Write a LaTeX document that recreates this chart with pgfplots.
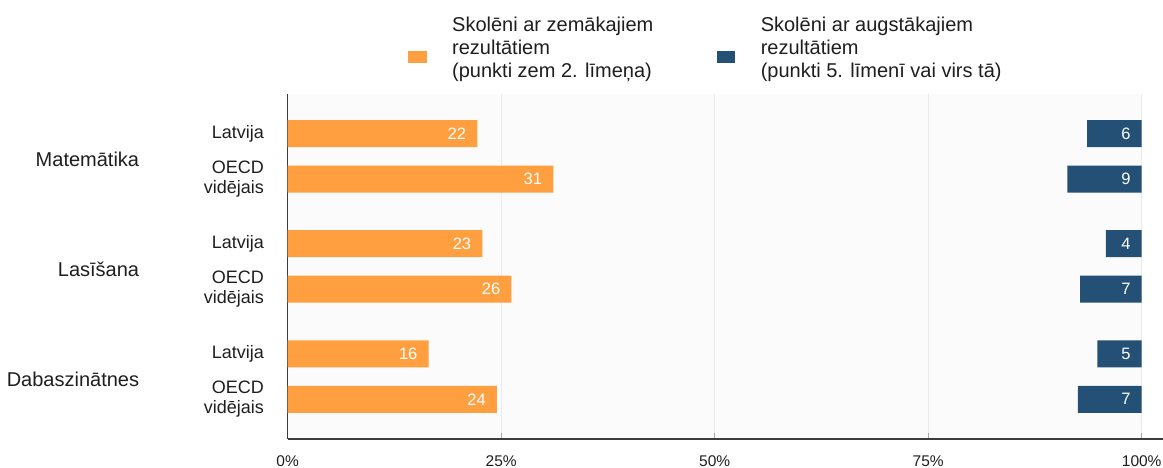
\documentclass[border=0pt]{standalone}
\usepackage{fontspec}
\setmainfont{Liberation Sans}
\usepackage{pgfplots}
\pgfplotsset{compat=1.18}

\definecolor{lowor}{RGB}{255,159,64}
\definecolor{topbl}{RGB}{37,80,117}
\definecolor{gridc}{RGB}{234,234,234}
\definecolor{axc}{RGB}{60,60,60}
\definecolor{txt}{RGB}{30,30,30}

\pgfplotsset{
  rowaxis/.style={
    at={(287.7pt,29pt)}, anchor=south west,
    scale only axis, width=854pt, height=345pt,
    xmin=0, xmax=100, ymin=-0.873, ymax=6.71,
  },
}

\begin{document}
\begin{tikzpicture}
\path[use as bounding box] (0,0) rectangle (1163pt,468pt);

% left: share of low achievers, bars from 0
\begin{axis}[rowaxis,
  axis background/.style={fill=white!98.5!black},
  axis x line*=bottom, axis y line*=left,
  axis line style={-, draw=axc, line width=1.3pt},
  x axis line style={shorten >=-21pt},
  xmajorgrids, grid style={gridc, line width=1.2pt},
  xtick={0,25,50,75,100},
  xticklabels={0\%,25\%,50\%,75\%,100\%},
  xtick style={draw=gray!70, line width=0.8pt},
  major tick length=6pt,
  ytick style={draw=none},
  xticklabel style={font=\fontsize{15.5}{17}\selectfont, text=txt, anchor=center, yshift=-22pt},
  ytick={0,1,2.42,3.42,4.84,5.84},
  yticklabels={{OECD\\vidējais},Latvija,{OECD\\vidējais},Latvija,{OECD\\vidējais},Latvija},
  yticklabel style={font=\fontsize{18}{19.5}\selectfont, text=txt, align=right, anchor=east, inner sep=0pt, xshift=-23.7pt},
  extra y ticks={0.44,2.86,5.28},
  extra y tick labels={Dabaszinātnes,Lasīšana,Matemātika},
  extra y tick style={yticklabel style={font=\fontsize{20}{22}\selectfont, xshift=-124.7pt}},
  legend columns=2,
  legend image code/.code={\fill[#1] (0pt,-15.4pt) rectangle (18.4pt,-2.7pt);},
  legend style={draw=none, fill=none, inner sep=0pt, outer sep=0pt,
    at={(axis description cs:0.1412,1.229)}, anchor=north west,
    font=\fontsize{20}{23}\selectfont, text=txt,
    cells={align=left, inner sep=0pt},
    /tikz/every odd column/.append style={column sep=23.5pt},
    /tikz/every even column/.append style={column sep=61.5pt}},
]
\addplot[xbar, bar width=27pt, bar shift=0pt, fill=lowor, draw=none,
  point meta=explicit symbolic, nodes near coords,
  nodes near coords style={anchor=east, xshift=-7.7pt, text=white, font=\fontsize{16.5}{18}\selectfont}]
  coordinates {(24.5,0)[24] (16.5,1)[16] (26.2,2.42)[26] (22.8,3.42)[23] (31.1,4.84)[31] (22.2,5.84)[22]};
\addlegendentry{Skolēni ar zemākajiem\\rezultātiem\\(punkti zem 2. līmeņa)}
\addlegendimage{fill=topbl, draw=none}
\addlegendentry{Skolēni ar augstākajiem\\rezultātiem\\(punkti 5. līmenī vai virs tā)}
\end{axis}

% right: share of top performers, bars from 100
\begin{axis}[rowaxis, hide axis, x dir=reverse]
\addplot[xbar, bar width=27pt, bar shift=0pt, fill=topbl, draw=none]
  coordinates {(7.46,0) (5.2,1) (7.2,2.42) (4.2,3.42) (8.7,4.84) (6.4,5.84)};
\addplot[draw=none, mark=none, point meta=explicit symbolic, nodes near coords,
  nodes near coords style={anchor=east, xshift=-7.7pt, text=white, font=\fontsize{16.5}{18}\selectfont}]
  coordinates {(0,0)[7] (0,1)[5] (0,2.42)[7] (0,3.42)[4] (0,4.84)[9] (0,5.84)[6]};
\end{axis}
\end{tikzpicture}
\end{document}
